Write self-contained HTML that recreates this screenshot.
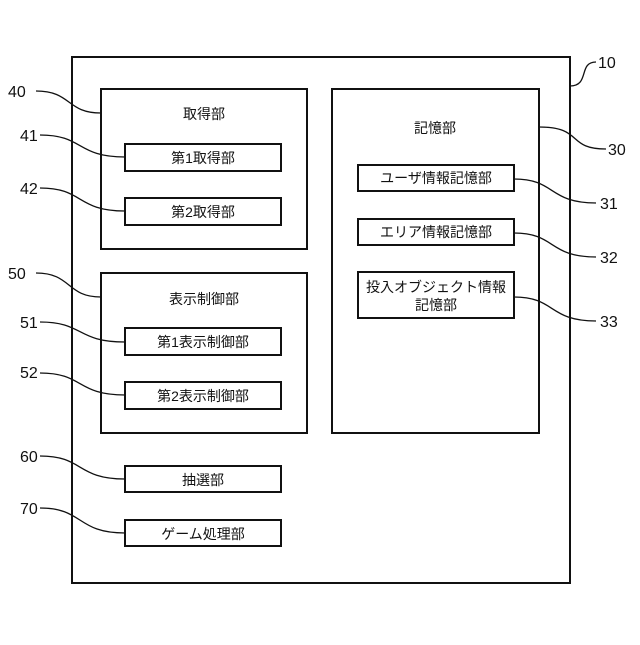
<!DOCTYPE html>
<html><head><meta charset="utf-8"><style>
body{margin:0;background:#fff}
text{font-family:"Liberation Sans","Noto Sans CJK JP",sans-serif;font-size:14px;fill:#111}
.n{font-size:16px}
</style></head><body>
<svg width="640" height="640" viewBox="0 0 640 640" xmlns="http://www.w3.org/2000/svg">
<g fill="none" stroke="#111" stroke-width="2">
<rect x="72" y="57" width="498" height="526"/>
<rect x="101" y="89" width="206" height="160"/>
<rect x="125" y="144" width="156" height="27"/>
<rect x="125" y="198" width="156" height="27"/>
<rect x="101" y="273" width="206" height="160"/>
<rect x="125" y="328" width="156" height="27"/>
<rect x="125" y="382" width="156" height="27"/>
<rect x="125" y="466" width="156" height="26"/>
<rect x="125" y="520" width="156" height="26"/>
<rect x="332" y="89" width="207" height="344"/>
<rect x="358" y="165" width="156" height="26"/>
<rect x="358" y="219" width="156" height="26"/>
<rect x="358" y="272" width="156" height="46"/>
</g>
<g fill="none" stroke="#111" stroke-width="1.3">
<path d="M36,91 C72,91 66,113 101,113"/>
<path d="M40,135 C84,135 76,157 125,157"/>
<path d="M40,188 C84,188 76,211 125,211"/>
<path d="M36,273 C72,273 66,297 101,297"/>
<path d="M40,322 C84,322 76,342 125,342"/>
<path d="M40,373 C84,373 76,395 125,395"/>
<path d="M40,456 C84,456 76,479 125,479"/>
<path d="M40,508 C84,508 76,533 125,533"/>
<path d="M570,86 C590,86 578,62 596,62"/>
<path d="M539,127 C584,127 566,149 606,149"/>
<path d="M514,179 C556,179 548,203 596,203"/>
<path d="M514,233 C556,233 548,257 596,257"/>
<path d="M514,297 C556,297 548,321 596,321"/>
</g>
<g text-anchor="middle">
<text x="204" y="119">取得部</text>
<text x="203" y="163">第1取得部</text>
<text x="203" y="217">第2取得部</text>
<text x="204" y="304">表示制御部</text>
<text x="203" y="347">第1表示制御部</text>
<text x="203" y="401">第2表示制御部</text>
<text x="203" y="485">抽選部</text>
<text x="203" y="539">ゲーム処理部</text>
<text x="435" y="133">記憶部</text>
<text x="436" y="183">ユーザ情報記憶部</text>
<text x="436" y="237">エリア情報記憶部</text>
<text x="436" y="292">投入オブジェクト情報</text>
<text x="436" y="310">記憶部</text>
</g>
<g class="n">
<text class="n" x="8" y="97">40</text>
<text class="n" x="20" y="141">41</text>
<text class="n" x="20" y="194">42</text>
<text class="n" x="8" y="279">50</text>
<text class="n" x="20" y="328">51</text>
<text class="n" x="20" y="378">52</text>
<text class="n" x="20" y="462">60</text>
<text class="n" x="20" y="514">70</text>
<text class="n" x="598" y="68">10</text>
<text class="n" x="608" y="155">30</text>
<text class="n" x="600" y="209">31</text>
<text class="n" x="600" y="263">32</text>
<text class="n" x="600" y="327">33</text>
</g>
</svg>
</body></html>
